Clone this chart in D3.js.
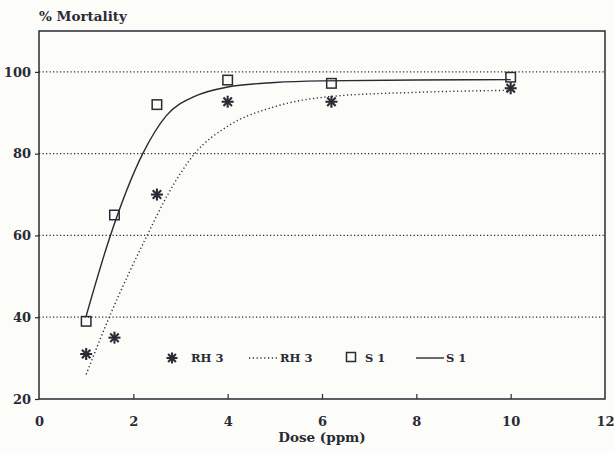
<!DOCTYPE html>
<html>
<head>
<meta charset="utf-8">
<script src="https://cdn.jsdelivr.net/npm/d3@7"></script>
<style>
  body { margin: 0; background: #fcfcf9; }
  svg { display: block; }
  text { font-family: "DejaVu Serif", serif; font-weight: bold; fill: #2a2a35; }
</style>
</head>
<body>
<svg id="chart" width="615" height="453"></svg>
<script>
// observed points
const doses = [1, 1.6, 2.5, 4, 6.2, 10];
const rh3 = [31, 35, 70, 92.7, 92.7, 96];
const s1 = [39, 65, 92, 98, 97.2, 98.7];

// fitted curves
const rh3FitX = [1, 1.5, 2.3, 2.75, 3.3, 4, 5, 6.2, 8, 10];
const rh3FitY = [26, 40.3, 60.2, 70.4, 80, 86.7, 91.5, 94, 95, 95.5];
const s1FitX = [1, 1.5, 2.2, 2.7, 3.3, 4, 5, 6, 8, 10];
const s1FitY = [40.3, 59.5, 80, 89.3, 94, 96.3, 97.4, 97.8, 98, 98.1];

const xTicks = [0, 2, 4, 6, 8, 10, 12];
const yTicks = [20, 40, 60, 80, 100];

const ink = "#2a2a35";
const margin = { top: 31, right: 10, bottom: 54, left: 39 };
const svgEl = d3.select("#chart");
const width = 615 - margin.left - margin.right;
const height = 453 - margin.top - margin.bottom;

const svg = svgEl.append("g")
    .attr("transform", `translate(${margin.left},${margin.top})`);

const x = d3.scaleLinear().domain([0, 12]).range([0, width]);
const y = d3.scaleLinear().domain([20, 110]).range([height, 0]);

// grid lines
svg.selectAll(".grid")
    .data(yTicks.filter(d => d > 20))
    .enter().append("line")
    .attr("x1", 0).attr("x2", width)
    .attr("y1", d => y(d)).attr("y2", d => y(d))
    .attr("stroke", ink)
    .attr("stroke-width", 1.2)
    .attr("stroke-dasharray", "1.2,2.3");

// frame
svg.append("rect")
    .attr("width", width).attr("height", height)
    .attr("fill", "none").attr("stroke", ink).attr("stroke-width", 1.5);

// axes
const xAxis = svg.append("g")
    .attr("transform", `translate(0,${height})`)
    .call(d3.axisBottom(x).tickValues(xTicks).tickSize(-5).tickPadding(18));
xAxis.select(".domain").remove();
xAxis.selectAll("line").attr("stroke", ink).attr("stroke-width", 1.2)
    .filter(d => d === 0 || d === 12).remove();
xAxis.selectAll("text").style("font-size", "13px").attr("fill", ink);

const yAxis = svg.append("g")
    .call(d3.axisLeft(y).tickValues(yTicks).tickSize(4).tickPadding(4));
yAxis.select(".domain").remove();
yAxis.selectAll("line").attr("stroke", ink).attr("stroke-width", 1.2);
yAxis.selectAll("text").style("font-size", "13px").attr("fill", ink);

// labels
svgEl.append("text")
    .attr("x", 39).attr("y", 21)
    .style("font-size", "13.5px")
    .text("% Mortality");

svgEl.append("text")
    .attr("x", 322).attr("y", 442)
    .attr("text-anchor", "middle")
    .style("font-size", "13.5px")
    .text("Dose (ppm)");

// fitted curves
const line = d3.line()
    .x(d => x(d[0]))
    .y(d => y(d[1]))
    .curve(d3.curveMonotoneX);

svg.append("path")
    .attr("d", line(rh3FitX.map((v, i) => [v, rh3FitY[i]])))
    .attr("fill", "none").attr("stroke", ink)
    .attr("stroke-width", 1.4).attr("stroke-dasharray", "1.2,2.6");

svg.append("path")
    .attr("d", line(s1FitX.map((v, i) => [v, s1FitY[i]])))
    .attr("fill", "none").attr("stroke", ink)
    .attr("stroke-width", 1.4);

// markers
function asterisk(g, cx, cy, r) {
    const a = g.append("g").attr("transform", `translate(${cx},${cy})`);
    [0, 45, 90, 135].forEach(ang => {
        const t = ang * Math.PI / 180;
        a.append("line")
            .attr("x1", -r * Math.cos(t)).attr("y1", -r * Math.sin(t))
            .attr("x2", r * Math.cos(t)).attr("y2", r * Math.sin(t))
            .attr("stroke", ink).attr("stroke-width", 2.1);
    });
}
function square(g, cx, cy, s) {
    g.append("rect")
        .attr("x", cx - s / 2).attr("y", cy - s / 2)
        .attr("width", s).attr("height", s)
        .attr("fill", "none").attr("stroke", ink).attr("stroke-width", 1.5);
}

doses.forEach((d, i) => asterisk(svg, x(d), y(rh3[i]), 6));
doses.forEach((d, i) => square(svg, x(d), y(s1[i]), 9.5));

// legend
const legY = 358;
const leg = svgEl.append("g");
asterisk(leg, 172, legY, 5.5);
leg.append("text").attr("x", 191).attr("y", legY + 4).style("font-size", "11.5px").text("RH 3");
leg.append("line").attr("x1", 249).attr("x2", 278).attr("y1", legY).attr("y2", legY)
    .attr("stroke", ink).attr("stroke-width", 1.3).attr("stroke-dasharray", "1.2,2.6");
leg.append("text").attr("x", 280).attr("y", legY + 4).style("font-size", "11.5px").text("RH 3");
square(leg, 351, legY - 1, 9);
leg.append("text").attr("x", 365).attr("y", legY + 4).style("font-size", "11.5px").text("S 1");
leg.append("line").attr("x1", 416).attr("x2", 444).attr("y1", legY).attr("y2", legY)
    .attr("stroke", ink).attr("stroke-width", 1.4);
leg.append("text").attr("x", 446).attr("y", legY + 4).style("font-size", "11.5px").text("S 1");
</script>
</body>
</html>
